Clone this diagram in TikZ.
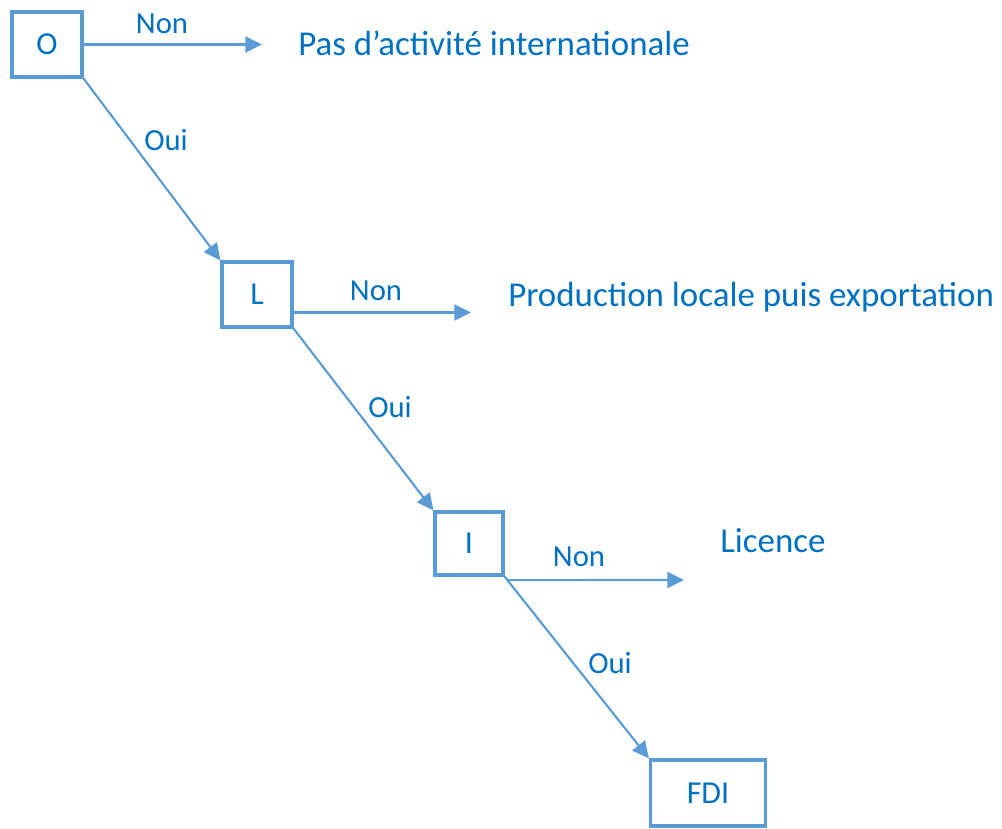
\documentclass[tikz,border=0pt]{standalone}
\usepackage{fontspec}
\setmainfont{Carlito}
\usetikzlibrary{arrows.meta}
\definecolor{boxblue}{HTML}{5B9BD5}
\definecolor{textblue}{HTML}{0070C0}
\tikzset{
  decision/.style={draw=boxblue, line width=2.4pt, text=textblue, inner sep=0pt,
    minimum width=52.5pt, minimum height=48.75pt, font=\fontsize{24}{28}\selectfont},
  outcome/.style={text=textblue, inner sep=0pt, anchor=base west,
    font=\fontsize{26.2}{30}\selectfont},
  answer/.style={text=textblue, inner sep=0pt, anchor=base,
    font=\fontsize{23}{27}\selectfont},
  flow/.style={draw=boxblue, line width=1.6pt,
    -{Triangle[length=12.5pt, width=12pt]}},
}
\begin{document}
\begin{tikzpicture}[x=0.75pt, y=-0.75pt]
\useasboundingbox (0,0) rectangle (1002,828);

% decision boxes
\node[decision] (O) at (47,44.5) {O};
\node[decision] (L) at (257,294.5) {L};
\node[decision, minimum width=51pt, minimum height=47.25pt] (I) at (469,543.5) {I};
\node[decision, minimum width=86.25pt, minimum height=49.5pt] (FDI) at (708,793) {FDI};

% outcomes when the answer is no
\node[outcome] (pas) at (298,55) {Pas d’activité internationale};
\node[outcome] (prod) at (508,306) {Production locale puis exportation};
\node[outcome] (lic) at (720,552) {Licence};

\coordinate (endO) at (262,44.5);
\coordinate (endL) at (471,312.5);
\coordinate (endI) at (684,580);

% "Non" branches
\draw[flow] (O.east) -- (endO);
\draw[flow] ([yshift=-13.5pt]L.east) -- (endL);
\draw[flow] ([shift={(2,3.5)}]I.south east) -- (endI);

% "Oui" branches
\draw[flow] (O.south east) -- (L.north west);
\draw[flow] (L.south east) -- (I.north west);
\draw[flow] (I.south east) -- (FDI.north west);

% branch labels
\node[answer] (n1) at (162,33) {Non};
\node[answer] (n2) at (376,300) {Non};
\node[answer] (n3) at (579,566) {Non};
\node[answer] (o1) at (166,150) {Oui};
\node[answer] (o2) at (390,417) {Oui};
\node[answer] (o3) at (610,673) {Oui};
\end{tikzpicture}
\end{document}
